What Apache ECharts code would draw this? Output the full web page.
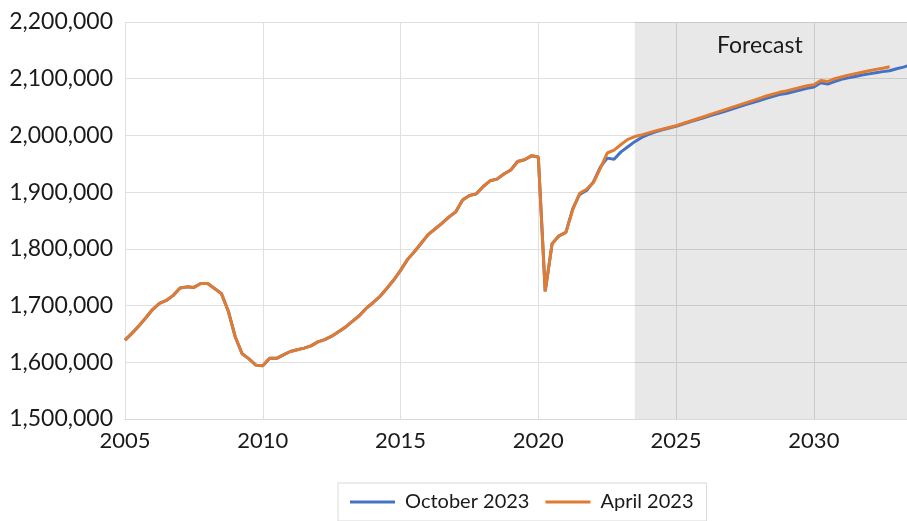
<!DOCTYPE html>
<html>
<head>
<meta charset="utf-8">
<script src="https://cdn.jsdelivr.net/npm/echarts@6/dist/echarts.min.js"></script>
<style>
  html, body { margin: 0; padding: 0; background: #fff; }
  #chart { width: 907px; height: 521px; }
</style>
</head>
<body>
<div id="chart"></div>
<script>
// quarterly data, first point is 2005Q1
const startYear = 2005;
// shared history 2005Q1 .. 2021Q1
const history = [
  1639000, 1651000, 1664000, 1678000,
  1693000, 1704000, 1709000, 1718000,
  1731000, 1733000, 1732000, 1739000,
  1739000, 1730000, 1721000, 1690000,
  1645000, 1615000, 1606000, 1595000,
  1594000, 1607000, 1607000, 1613000,
  1619000, 1622000, 1625000, 1629000,
  1636000, 1640000, 1646000, 1654000,
  1662000, 1672000, 1682000, 1695000,
  1705000, 1716000, 1730000, 1745000,
  1762000, 1781000, 1795000, 1810000,
  1825000, 1835000, 1845000, 1856000,
  1865000, 1886000, 1894000, 1897000,
  1910000, 1920000, 1923000, 1932000,
  1939000, 1954000, 1957000, 1964000,
  1962000, 1725000, 1809000, 1823000,
  1829000
];
// 2021Q2 onward
const octoberTail = [
           1871000, 1896000, 1903000,
  1918000, 1944000, 1960000, 1958000,
  1971000, 1980000, 1989000, 1996500,
  2002000, 2006500, 2010000, 2013000,
  2016000, 2020000, 2024000, 2027500,
  2031000, 2035000, 2038500, 2042000,
  2046000, 2050000, 2054000, 2057500,
  2061000, 2065000, 2068500, 2072000,
  2074000, 2077000, 2080000, 2083000,
  2085500, 2093000, 2090500, 2095000,
  2099000, 2101500, 2104000, 2106500,
  2108500, 2110500, 2112500, 2114000,
  2117500, 2120500, 2124000
];
const aprilTail = [
           1869000, 1898000, 1905000,
  1917000, 1942000, 1969000, 1974000,
  1984000, 1993000, 1998000, 2001000,
  2004500, 2008000, 2011000, 2014000,
  2017000, 2021000, 2025000, 2029000,
  2033000, 2037000, 2041000, 2045000,
  2049000, 2053000, 2057000, 2061000,
  2065000, 2069000, 2072500, 2076000,
  2078500, 2081500, 2084500, 2087500,
  2089500, 2097000, 2095000, 2100000,
  2103000, 2106000, 2109000, 2111500,
  2114000, 2116500, 2118500, 2121000
];
const seriesNames = ['October 2023', 'April 2023'];
const forecastStart = 2023.5;
const axisEnd = 2033.38;

const october = history.concat(octoberTail);
const april = history.concat(aprilTail);
// quarter index -> decimal year on the x axis
const toPoints = vals => vals.map((v, i) => [startYear + i / 4, v]);

const font = 'Lato, "Open Sans", sans-serif';
const textColor = '#1a1a1a';

const chart = echarts.init(document.getElementById('chart'));
chart.setOption({
  animation: false,
  grid: { left: 125, right: 0, top: 22, bottom: 102 },
  xAxis: {
    type: 'value',
    min: 2005,
    max: axisEnd,
    interval: 5,
    axisLine: { show: true, lineStyle: { color: '#d9d9d9', width: 1 } },
    axisTick: { show: false },
    axisLabel: {
      margin: 11,
      fontSize: 22,
      fontFamily: font,
      color: textColor,
      showMaxLabel: false,
      formatter: v => (v % 5 === 0 ? String(v) : '')
    },
    splitLine: { show: true, lineStyle: { color: '#e0e0e0', width: 1 } }
  },
  yAxis: {
    type: 'value',
    min: 1500000,
    max: 2200000,
    interval: 100000,
    axisLine: { show: false },
    axisTick: { show: false },
    axisLabel: {
      margin: 12,
      fontSize: 23,
      fontFamily: font,
      color: textColor,
      formatter: v => v.toLocaleString('en-US')
    },
    splitLine: { lineStyle: { color: '#e0e0e0', width: 1 } }
  },
  legend: {
    left: 338,
    top: 483,
    padding: [9, 13, 9, 12],
    itemGap: 16,
    itemWidth: 45,
    itemHeight: 3,
    icon: 'rect',
    borderColor: '#d9d9d9',
    borderWidth: 1,
    textStyle: {
      fontSize: 20, fontFamily: font, color: textColor,
      lineHeight: 20, padding: [0, 0, 0, 5]
    },
    data: seriesNames
  },
  series: [
    {
      name: seriesNames[0],
      type: 'line',
      symbol: 'none',
      data: toPoints(october),
      lineStyle: { color: '#4472c4', width: 3 },
      itemStyle: { color: '#4472c4' },
      markArea: {
        silent: true,
        itemStyle: { color: 'rgba(0,0,0,0.09)' },
        label: {
          show: true,
          position: 'insideTop',
          distance: 12,
          offset: [-11, 0],
          fontSize: 23,
          fontFamily: font,
          color: textColor
        },
        data: [[{ name: 'Forecast', xAxis: forecastStart }, { xAxis: axisEnd }]]
      }
    },
    {
      name: seriesNames[1],
      type: 'line',
      symbol: 'none',
      data: toPoints(april),
      lineStyle: { color: '#e07b31', width: 3 },
      itemStyle: { color: '#e07b31' }
    }
  ]
});
</script>
</body>
</html>
